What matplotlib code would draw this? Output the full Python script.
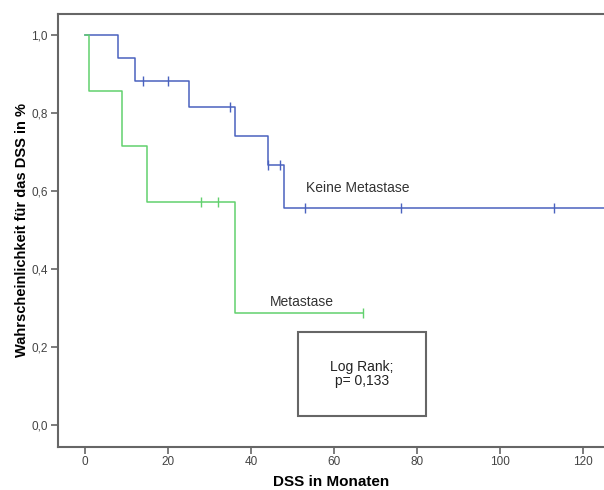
import numpy as np
import matplotlib.pyplot as plt
from matplotlib.ticker import FuncFormatter

plt.rcParams['font.family'] = ['Liberation Sans', 'DejaVu Sans']

# Kaplan-Meier Schritte (Zeit in Monaten, Überlebenswahrscheinlichkeit)
keine_t = [0, 8, 12, 25, 36, 44, 48, 125]
keine_s = [1.0, 0.941, 0.882, 0.814, 0.740, 0.666, 0.555, 0.555]
keine_zens_t = [14, 20, 35, 44, 47, 53, 76, 113]
keine_zens_s = [0.882, 0.882, 0.814, 0.666, 0.666, 0.555, 0.555, 0.555]

meta_t = [0, 1, 9, 15, 36, 67]
meta_s = [1.0, 0.857, 0.714, 0.571, 0.286, 0.286]
meta_zens_t = [28, 32, 67]
meta_zens_s = [0.571, 0.571, 0.286]

x_ticks = [0, 20, 40, 60, 80, 100, 120]
y_ticks = [0.0, 0.2, 0.4, 0.6, 0.8, 1.0]

blau = '#4a62bf'
gruen = '#62d16e'
grau = '#666666'

fig = plt.figure(figsize=(6.04, 4.9), dpi=100)
ax = fig.add_axes([0.0955, 0.0884, 0.9045, 0.883])

ax.step(keine_t, keine_s, where='post', color=blau, lw=1.1)
ax.step(meta_t, meta_s, where='post', color=gruen, lw=1.1)
ax.plot(keine_zens_t, keine_zens_s, ls='none', marker='|', ms=7, mew=1.0, color=blau)
ax.plot(meta_zens_t, meta_zens_s, ls='none', marker='|', ms=7, mew=1.0, color=gruen)

ax.set_xlim(-6.6, 125)
ax.set_ylim(-0.0556, 1.053)
ax.set_xticks(x_ticks)
ax.set_yticks(y_ticks)
ax.yaxis.set_major_formatter(FuncFormatter(lambda v, p: f'{v:.1f}'.replace('.', ',')))

ax.spines['right'].set_visible(False)
for s in ['left', 'bottom', 'top']:
    ax.spines[s].set_color(grau)
    ax.spines[s].set_linewidth(1.5)
ax.tick_params(direction='out', length=5, width=1.2, color=grau,
               labelsize=8.5, labelcolor='#444444', pad=2)

ax.set_xlabel('DSS in Monaten', fontsize=11, fontweight='bold')
ax.xaxis.set_label_coords(0.5, -0.082)
ax.xaxis.label.set_va('center')
ax.set_ylabel('Wahrscheinlichkeit für das DSS in %', fontsize=10.5, fontweight='bold')
ax.yaxis.set_label_coords(-0.066, 0.5)
ax.yaxis.label.set_va('center')

ax.text(53.3, 0.607, 'Keine Metastase', fontsize=10, color='#333333', va='center', ha='left')
ax.text(44.6, 0.316, 'Metastase', fontsize=10, color='#333333', va='center', ha='left')

# Log-Rank Box
ax.add_patch(plt.Rectangle((51.4, 0.023), 30.7, 0.216, fill=False, ec=grau, lw=1.5))
ax.text(66.75, 0.131, 'Log Rank;\np= 0,133', fontsize=10, color='#222222',
        ha='center', va='center', linespacing=1.0)

fig.savefig('out.png', dpi=100)
